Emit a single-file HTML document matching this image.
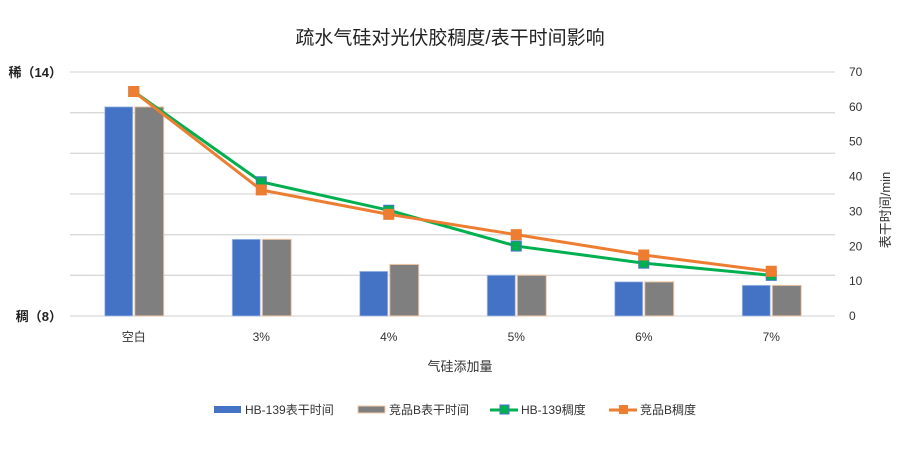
<!DOCTYPE html>
<html><head><meta charset="utf-8"><style>
body{margin:0;background:#fff;}
svg text{font-family:"Liberation Sans","Noto Sans CJK SC",sans-serif;}
</style></head><body>
<svg id="chart" width="922" height="444" viewBox="0 0 922 444">
<text x="450" y="44" text-anchor="middle" font-size="19" fill="#222">疏水气硅对光伏胶稠度/表干时间影响</text>
<g id="grid"></g><g id="bars"></g><g id="lines"></g><g id="axes"></g>
<text x="460" y="371" text-anchor="middle" font-size="13" fill="#333">气硅添加量</text>
<text transform="translate(890,210) rotate(-90)" text-anchor="middle" font-size="13" fill="#333">表干时间/min</text>
<g font-size="12" fill="#333">
<g><rect x="214" y="406" width="27" height="7" fill="#4472c4"/><text x="245" y="414">HB-139表干时间</text></g>
<g><rect x="358" y="406" width="27" height="7" fill="#7f7f7f" stroke="#f4c9a8" stroke-width="1"/><text x="389" y="414">竞品B表干时间</text></g>
<g><line x1="490" y1="410" x2="518" y2="410" stroke="#00b050" stroke-width="3"/><rect x="500" y="405" width="9" height="9" fill="#00b050" stroke="#4472c4"/><text x="521" y="414">HB-139稠度</text></g>
<g><line x1="609" y1="410" x2="637" y2="410" stroke="#ed7d31" stroke-width="3"/><rect x="619" y="405" width="9" height="9" fill="#ed7d31"/><text x="640" y="414">竞品B稠度</text></g>
</g>
</svg>
<script>
const categories=["空白","3%","4%","5%","6%","7%"];
const hbTime=[60,22,12.8,11.7,9.8,8.8];
const compTime=[60,22,14.8,11.7,9.8,8.8];
const hbVisc=[13.52,11.3,10.6,9.72,9.3,9.0];
const compVisc=[13.52,11.1,10.5,10.0,9.5,9.1];
const rightTicks=[0,10,20,30,40,50,60,70];
const leftLabels=[["稀（14）",14],["稠（8）",8]];

const NS="http://www.w3.org/2000/svg";
const X0=70,X1=835,Y0=316,Y1=72;
const yR=v=>Y0-(v/70)*(Y0-Y1);
const yL=v=>Y0-((v-8)/6)*(Y0-Y1);
const step=(X1-X0)/categories.length;
const xC=i=>X0+step*(i+0.5);
function mk(tag,attrs,parent){const e=document.createElementNS(NS,tag);for(const k in attrs)e.setAttribute(k,attrs[k]);document.getElementById(parent).appendChild(e);return e;}

for(let v=8;v<=14;v++){
 const g=mk('line',{x1:X0,x2:X1,y1:yL(v),y2:yL(v),stroke:'#d9d9d9','stroke-width':1.3},'grid');
 
 
}
rightTicks.forEach(t=>{
 const e=mk('text',{x:849,y:yR(t)+4,'font-size':12,fill:'#333'},'axes');e.textContent=t;
 
 
});
leftLabels.forEach(([s,v])=>{
 const e=mk('text',{x:62,y:yL(v)+5,'font-size':13,fill:'#222','text-anchor':'end','font-weight':'bold'},'axes');e.textContent=s;
 
 
});
categories.forEach((c,i)=>{
 const e=mk('text',{x:xC(i),y:341,'font-size':12,fill:'#333','text-anchor':'middle'},'axes');e.textContent=c;
 
 
 const b1=mk('rect',{x:xC(i)-29,y:yR(hbTime[i]),width:28,height:Y0-yR(hbTime[i]),fill:'#4472c4',stroke:'#a9c0e8','stroke-width':0.8},'bars');
 
 
 const b2=mk('rect',{x:xC(i)+1,y:yR(compTime[i]),width:29,height:Y0-yR(compTime[i]),fill:'#7f7f7f',stroke:'#f4c9a8','stroke-width':1},'bars');
 
 
});
function series(vals,color,mStroke,name){
 const p=mk('polyline',{points:vals.map((v,i)=>xC(i)+','+yL(v)).join(' '),fill:'none',stroke:color,'stroke-width':3},'lines');
 
 
 vals.forEach((v,i)=>{
  const m=mk('rect',{x:xC(i)-5,y:yL(v)-5,width:10,height:10,fill:color,stroke:mStroke,'stroke-width':1},'lines');
  
  
 });
}
series(hbVisc,'#00b050','#4472c4','hb139-viscosity');
series(compVisc,'#ed7d31','#ed7d31','competitor-viscosity');
</script>
</body></html>
